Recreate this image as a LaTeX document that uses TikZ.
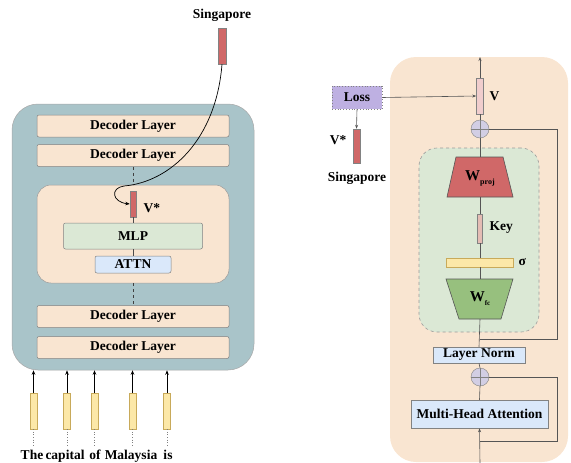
\documentclass[tikz,border=0pt]{standalone}
\usepackage{fontspec}
\setmainfont{Liberation Serif}
\usetikzlibrary{arrows.meta,calc}
\definecolor{bluegrey}{RGB}{169,196,201}
\definecolor{peach}{RGB}{249,229,209}
\definecolor{lgreen}{RGB}{219,232,213}
\definecolor{lblue}{RGB}{218,232,250}
\definecolor{redbar}{RGB}{208,104,104}
\definecolor{vpink}{RGB}{240,205,205}
\definecolor{keypink}{RGB}{228,188,180}
\definecolor{ybar}{RGB}{252,232,168}
\definecolor{ybord}{RGB}{200,170,90}
\definecolor{losspurple}{RGB}{190,176,226}
\definecolor{wfcgreen}{RGB}{151,192,126}
\definecolor{pluscol}{RGB}{210,206,228}
\definecolor{edge}{RGB}{130,130,130}
\definecolor{rline}{RGB}{85,85,85}
\begin{document}
\begin{tikzpicture}[x=1pt,y=-1pt,
  lbl/.style={font=\fontsize{13.5}{14}\selectfont\bfseries},
  blk/.style={draw=edge,line width=0.5pt,inner sep=0pt,rounded corners=2pt,lbl},
  bar/.style={draw=edge,line width=0.5pt,inner sep=0pt},
  arr/.style={-{Stealth[length=4.5pt,width=3.5pt]},line width=0.7pt},
  rarr/.style={-{Stealth[length=4pt,width=3pt]},line width=0.6pt,draw=rline},
  rln/.style={line width=0.6pt,draw=rline},
  plusnode/.style={circle,draw=edge,fill=pluscol,minimum size=18pt,inner sep=0pt,
    path picture={\draw[edge,line width=0.5pt] (path picture bounding box.north) -- (path picture bounding box.south)
      (path picture bounding box.west) -- (path picture bounding box.east);}}
]
\useasboundingbox (0,0) rectangle (571,463);

% ---------------- left part ----------------
\node[draw=edge!70,line width=0.5pt,fill=bluegrey,rounded corners=26pt,minimum width=242pt,minimum height=266pt,inner sep=0pt] (enc) at (133,237) {};
\node[blk,fill=peach,minimum width=192pt,minimum height=22pt] (dec1) at (133,126) {Decoder Layer};
\node[blk,fill=peach,minimum width=192pt,minimum height=22pt] (dec2) at (133,155.5) {Decoder Layer};
\node[blk,fill=peach,minimum width=192pt,minimum height=22pt] (dec3) at (133,316.5) {Decoder Layer};
\node[blk,fill=peach,minimum width=192pt,minimum height=22pt] (dec4) at (133,347.5) {Decoder Layer};
\node[draw=edge!80,line width=0.5pt,fill=peach,rounded corners=14pt,minimum width=192pt,minimum height=98pt,inner sep=0pt] (inner) at (133,234) {};
\draw[dashed,line width=0.8pt,draw=black!75] (dec2.south) -- (inner.north);
\draw[dashed,line width=0.8pt,draw=black!75] (inner.south) -- (dec3.north);
\node[bar,fill=redbar,minimum width=6pt,minimum height=26pt] (vstar) at (133,204) {};
\node[lbl,anchor=west] (vstarlbl) at (140,208) {V*};
\node[blk,fill=lgreen,minimum width=139pt,minimum height=26pt] (mlp) at (133,236) {MLP};
\node[blk,fill=lblue,minimum width=76pt,minimum height=17pt] (attn) at (133,264.5) {ATTN};
\draw[line width=0.5pt,draw=black!70] (vstar.south) -- (mlp.north);
\draw[line width=0.5pt,draw=black!70] (mlp.south) -- (attn.north);

\node[lbl] (sgtop) at (222,15) {Singapore};
\node[bar,fill=redbar,minimum width=8pt,minimum height=36pt] (sgbar) at (222,46) {};
\draw[arr] (sgbar.south) .. controls (216,140) and (170,182) .. (124,186)
  .. controls (110,188) and (112,202) .. (vstar.west);

\foreach \i/\x/\w/\wx in {1/33.5/The/32,2/67/capital/65,3/94.5/of/95,4/132.5/Malaysia/131,5/167/is/168}{
  \node[bar,draw=ybord,fill=ybar,minimum width=7pt,minimum height=36pt] (tok\i) at (\x,411) {};
  \draw[arr] (tok\i.north) -- (tok\i.north |- enc.south);
  \coordinate (dot\i) at (\x,446);
  \draw[dotted,line width=0.6pt,draw=black!50] (tok\i.south) -- (dot\i);
  \node[lbl,anchor=base,inner sep=0pt] (word\i) at (\wx,459) {\w};
}

% ---------------- right part ----------------
\node[fill=peach,rounded corners=26pt,minimum width=178pt,minimum height=405pt,inner sep=0pt] (blockR) at (479,259.5) {};
\node[draw=edge!80,dashed,line width=0.6pt,fill=lgreen,rounded corners=18pt,minimum width=120pt,minimum height=184pt,inner sep=0pt] (mlpR) at (479,240) {};

\node[bar,fill=vpink,minimum width=7pt,minimum height=36pt] (v) at (480,96) {};
\node[lbl,anchor=west] (vlbl) at (486,96) {V};
\coordinate (topout) at (480,57);
\draw[rarr] (v.north) -- (topout);

\node[plusnode] (plus1) at (480,129) {};
\draw[rln] (v.south) -- (plus1.north);

\draw[rln,fill=redbar] (456,157) -- (503,157) -- (513,197) -- (447,197) -- cycle;
\node[inner sep=0pt,minimum width=66pt,minimum height=40pt] (wproj) at (480,177) {};
\node[lbl] at (480,178) {\fontsize{15}{15}\selectfont W\raisebox{-4pt}{\fontsize{8}{8}\selectfont proj}};
\draw[rln] (plus1.south) -- (wproj.north);

\node[bar,fill=keypink,minimum width=5pt,minimum height=29pt] (key) at (480,228.5) {};
\node[lbl,anchor=west] (keylbl) at (486,228) {Key};
\draw[rln] (wproj.south) -- (key.north);

\node[bar,draw=ybord,fill=ybar,minimum width=67pt,minimum height=9pt] (sigma) at (480,262.5) {};
\node[lbl,anchor=west] (sigmalbl) at (515,262) {σ};
\draw[rln] (key.south) -- (sigma.north);

\draw[rln,fill=wfcgreen] (446,279) -- (513,279) -- (501,319) -- (459,319) -- cycle;
\node[inner sep=0pt,minimum width=67pt,minimum height=40pt] (wfc) at (480,299) {};
\node[lbl] at (480,299) {\fontsize{15}{15}\selectfont W\raisebox{-4pt}{\fontsize{7}{7}\selectfont fc}};
\draw[rln] (sigma.south) -- (wfc.north);

\node[blk,fill=lblue,rounded corners=0pt,minimum width=92pt,minimum height=16pt] (ln) at (479,355) {Layer Norm};
\coordinate (j1) at (480,339);
\draw[rln] (wfc.south) -- (ln.north);
\coordinate (s1a) at (557,129);
\coordinate (s1b) at (557,339);
\draw[rln] (plus1.east) -- (s1a) -- (s1b) -- (j1);

\node[plusnode] (plus2) at (480,377) {};
\draw[rln] (ln.south) -- (plus2.north);

\node[blk,fill=lblue,rounded corners=0pt,minimum width=137pt,minimum height=28pt] (mha) at (479.5,414) {Multi-Head Attention};
\draw[rln] (plus2.south) -- (mha.north);
\coordinate (inbot) at (480,463);
\draw[rarr] (inbot) -- (mha.south);
\coordinate (j2) at (480,441);
\coordinate (s2a) at (557,377);
\coordinate (s2b) at (557,441);
\draw[rln] (plus2.east) -- (s2a) -- (s2b) -- (j2);

% Loss
\node[draw=edge,dotted,line width=0.8pt,fill=losspurple,minimum width=50pt,minimum height=23pt,inner sep=0pt,lbl] (loss) at (357,97.5) {Loss};
\draw[rarr] (loss.east) -- (v.west);
\node[bar,fill=redbar,minimum width=7pt,minimum height=34pt] (vstarR) at (356.5,146) {};
\draw[rarr] (loss.south) -- (vstarR.north);
\node[lbl] (vstarRlbl) at (338,140) {V*};
\node[lbl] (sgR) at (357,178) {Singapore};
\end{tikzpicture}
\end{document}
